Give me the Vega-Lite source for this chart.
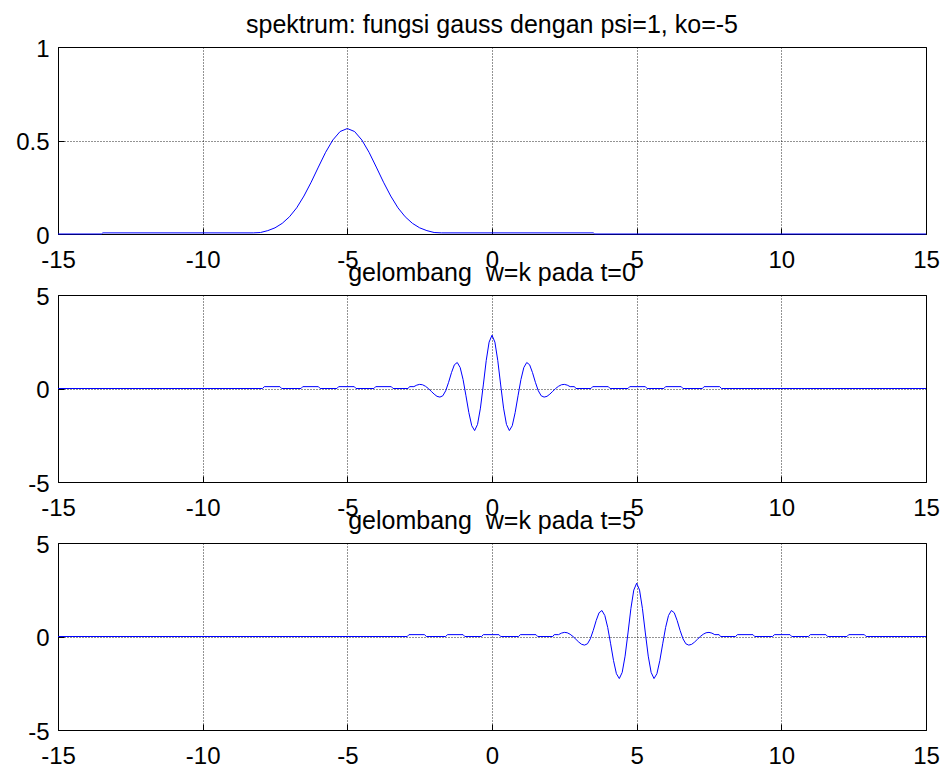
{
  "$schema": "https://vega.github.io/schema/vega-lite/v6.json",
  "padding": {"left": 15, "top": 12, "right": 5, "bottom": 0},
  "background": "#ffffff",
  "datasets": {
    "spektrum": [
      {"x": -15, "y": 0}, {"x": -13.5, "y": 0}, {"x": -13.45, "y": 0.006}, {"x": -8.25, "y": 0.006},
      {"x": -8.0, "y": 0.008}, {"x": -7.75, "y": 0.018}, {"x": -7.5, "y": 0.033}, {"x": -7.25, "y": 0.057},
      {"x": -7.0, "y": 0.092}, {"x": -6.75, "y": 0.14}, {"x": -6.5, "y": 0.203}, {"x": -6.25, "y": 0.277},
      {"x": -6.0, "y": 0.358}, {"x": -5.75, "y": 0.437}, {"x": -5.5, "y": 0.503}, {"x": -5.25, "y": 0.548},
      {"x": -5.0, "y": 0.564}, {"x": -4.75, "y": 0.548}, {"x": -4.5, "y": 0.503}, {"x": -4.25, "y": 0.437},
      {"x": -4.0, "y": 0.358}, {"x": -3.75, "y": 0.277}, {"x": -3.5, "y": 0.203}, {"x": -3.25, "y": 0.14},
      {"x": -3.0, "y": 0.092}, {"x": -2.75, "y": 0.057}, {"x": -2.5, "y": 0.033}, {"x": -2.25, "y": 0.018},
      {"x": -2.0, "y": 0.008}, {"x": -1.75, "y": 0.006}, {"x": 3.5, "y": 0.006}, {"x": 3.55, "y": 0}, {"x": 15, "y": 0}
    ],
    "t0": [
      {"x": -15, "y": 0},
      {"x": -7.93, "y": 0}, {"x": -7.87, "y": 0.1}, {"x": -7.33, "y": 0.1}, {"x": -7.27, "y": 0},
      {"x": -6.6, "y": 0}, {"x": -6.54, "y": 0.1}, {"x": -6.0, "y": 0.1}, {"x": -5.94, "y": 0},
      {"x": -5.36, "y": 0}, {"x": -5.3, "y": 0.1}, {"x": -4.76, "y": 0.1}, {"x": -4.7, "y": 0},
      {"x": -4.08, "y": 0}, {"x": -4.02, "y": 0.1}, {"x": -3.48, "y": 0.1}, {"x": -3.42, "y": 0},
      {"x": -2.9, "y": 0}, {"x": -2.85, "y": 0.1}, {"x": -2.7, "y": 0.1}, {"x": -2.6, "y": 0.18},
      {"x": -2.5, "y": 0.22}, {"x": -2.4, "y": 0.2}, {"x": -2.3, "y": 0.12}, {"x": -2.2, "y": 0.0},
      {"x": -2.1, "y": -0.15}, {"x": -2.0, "y": -0.3}, {"x": -1.9, "y": -0.42}, {"x": -1.8, "y": -0.46},
      {"x": -1.7, "y": -0.39}, {"x": -1.6, "y": -0.12}, {"x": -1.5, "y": 0.33}, {"x": -1.4, "y": 0.85},
      {"x": -1.3, "y": 1.27}, {"x": -1.2, "y": 1.39}, {"x": -1.1, "y": 1.12}, {"x": -1.0, "y": 0.48},
      {"x": -0.9, "y": -0.39}, {"x": -0.8, "y": -1.29}, {"x": -0.7, "y": -1.99}, {"x": -0.6, "y": -2.25},
      {"x": -0.5, "y": -1.92}, {"x": -0.4, "y": -1.05}, {"x": -0.3, "y": 0.19}, {"x": -0.2, "y": 1.49},
      {"x": -0.1, "y": 2.48}, {"x": 0.0, "y": 2.85}, {"x": 0.1, "y": 2.48}, {"x": 0.2, "y": 1.49},
      {"x": 0.3, "y": 0.19}, {"x": 0.4, "y": -1.05}, {"x": 0.5, "y": -1.92}, {"x": 0.6, "y": -2.25},
      {"x": 0.7, "y": -1.99}, {"x": 0.8, "y": -1.29}, {"x": 0.9, "y": -0.39}, {"x": 1.0, "y": 0.48},
      {"x": 1.1, "y": 1.12}, {"x": 1.2, "y": 1.39}, {"x": 1.3, "y": 1.27}, {"x": 1.4, "y": 0.85},
      {"x": 1.5, "y": 0.33}, {"x": 1.6, "y": -0.12}, {"x": 1.7, "y": -0.39}, {"x": 1.8, "y": -0.46},
      {"x": 1.9, "y": -0.42}, {"x": 2.0, "y": -0.3}, {"x": 2.1, "y": -0.15}, {"x": 2.2, "y": 0.0},
      {"x": 2.3, "y": 0.12}, {"x": 2.4, "y": 0.2}, {"x": 2.5, "y": 0.22}, {"x": 2.6, "y": 0.18},
      {"x": 2.7, "y": 0.1}, {"x": 2.85, "y": 0.1}, {"x": 2.9, "y": 0},
      {"x": 3.42, "y": 0}, {"x": 3.48, "y": 0.1}, {"x": 4.02, "y": 0.1}, {"x": 4.08, "y": 0},
      {"x": 4.7, "y": 0}, {"x": 4.76, "y": 0.1}, {"x": 5.3, "y": 0.1}, {"x": 5.36, "y": 0},
      {"x": 5.94, "y": 0}, {"x": 6.0, "y": 0.1}, {"x": 6.54, "y": 0.1}, {"x": 6.6, "y": 0},
      {"x": 7.27, "y": 0}, {"x": 7.33, "y": 0.1}, {"x": 7.87, "y": 0.1}, {"x": 7.93, "y": 0},
      {"x": 15, "y": 0}
    ],
    "t5": [
      {"x": -15, "y": 0},
      {"x": -2.93, "y": 0}, {"x": -2.87, "y": 0.1}, {"x": -2.33, "y": 0.1}, {"x": -2.27, "y": 0},
      {"x": -1.6, "y": 0}, {"x": -1.54, "y": 0.1}, {"x": -1.0, "y": 0.1}, {"x": -0.94, "y": 0},
      {"x": -0.36, "y": 0}, {"x": -0.3, "y": 0.1}, {"x": 0.24, "y": 0.1}, {"x": 0.3, "y": 0},
      {"x": 0.92, "y": 0}, {"x": 0.98, "y": 0.1}, {"x": 1.52, "y": 0.1}, {"x": 1.58, "y": 0},
      {"x": 2.1, "y": 0}, {"x": 2.15, "y": 0.1}, {"x": 2.3, "y": 0.1}, {"x": 2.4, "y": 0.18},
      {"x": 2.5, "y": 0.22}, {"x": 2.6, "y": 0.2}, {"x": 2.7, "y": 0.12}, {"x": 2.8, "y": 0.0},
      {"x": 2.9, "y": -0.15}, {"x": 3.0, "y": -0.3}, {"x": 3.1, "y": -0.42}, {"x": 3.2, "y": -0.46},
      {"x": 3.3, "y": -0.39}, {"x": 3.4, "y": -0.12}, {"x": 3.5, "y": 0.33}, {"x": 3.6, "y": 0.85},
      {"x": 3.7, "y": 1.27}, {"x": 3.8, "y": 1.39}, {"x": 3.9, "y": 1.12}, {"x": 4.0, "y": 0.48},
      {"x": 4.1, "y": -0.39}, {"x": 4.2, "y": -1.29}, {"x": 4.3, "y": -1.99}, {"x": 4.4, "y": -2.25},
      {"x": 4.5, "y": -1.92}, {"x": 4.6, "y": -1.05}, {"x": 4.7, "y": 0.19}, {"x": 4.8, "y": 1.49},
      {"x": 4.9, "y": 2.48}, {"x": 5.0, "y": 2.85}, {"x": 5.1, "y": 2.48}, {"x": 5.2, "y": 1.49},
      {"x": 5.3, "y": 0.19}, {"x": 5.4, "y": -1.05}, {"x": 5.5, "y": -1.92}, {"x": 5.6, "y": -2.25},
      {"x": 5.7, "y": -1.99}, {"x": 5.8, "y": -1.29}, {"x": 5.9, "y": -0.39}, {"x": 6.0, "y": 0.48},
      {"x": 6.1, "y": 1.12}, {"x": 6.2, "y": 1.39}, {"x": 6.3, "y": 1.27}, {"x": 6.4, "y": 0.85},
      {"x": 6.5, "y": 0.33}, {"x": 6.6, "y": -0.12}, {"x": 6.7, "y": -0.39}, {"x": 6.8, "y": -0.46},
      {"x": 6.9, "y": -0.42}, {"x": 7.0, "y": -0.3}, {"x": 7.1, "y": -0.15}, {"x": 7.2, "y": 0.0},
      {"x": 7.3, "y": 0.12}, {"x": 7.4, "y": 0.2}, {"x": 7.5, "y": 0.22}, {"x": 7.6, "y": 0.18},
      {"x": 7.7, "y": 0.1}, {"x": 7.85, "y": 0.1}, {"x": 7.9, "y": 0},
      {"x": 8.42, "y": 0}, {"x": 8.48, "y": 0.1}, {"x": 9.02, "y": 0.1}, {"x": 9.08, "y": 0},
      {"x": 9.7, "y": 0}, {"x": 9.76, "y": 0.1}, {"x": 10.3, "y": 0.1}, {"x": 10.36, "y": 0},
      {"x": 10.94, "y": 0}, {"x": 11.0, "y": 0.1}, {"x": 11.54, "y": 0.1}, {"x": 11.6, "y": 0},
      {"x": 12.27, "y": 0}, {"x": 12.33, "y": 0.1}, {"x": 12.87, "y": 0.1}, {"x": 12.93, "y": 0},
      {"x": 15, "y": 0}
    ]
  },
  "vconcat": [
    {
      "title": {"text": "spektrum: fungsi gauss dengan psi=1, ko=-5"},
      "width": 868,
      "height": 187,
      "data": {"name": "spektrum"},
      "mark": {"type": "line", "color": "#0000ff", "strokeWidth": 1},
      "encoding": {
        "x": {"field": "x", "type": "quantitative", "title": null,
              "scale": {"domain": [-15, 15], "nice": false, "zero": false},
              "axis": {"values": [-15, -10, -5, 0, 5, 10, 15]}},
        "y": {"field": "y", "type": "quantitative", "title": null,
              "scale": {"domain": [0, 1], "nice": false, "zero": false},
              "axis": {"values": [0, 0.5, 1]}}
      }
    },
    {
      "title": {"text": "gelombang\u00a0 w=k pada t=0"},
      "width": 868,
      "height": 187,
      "data": {"name": "t0"},
      "mark": {"type": "line", "color": "#0000ff", "strokeWidth": 1},
      "encoding": {
        "x": {"field": "x", "type": "quantitative", "title": null,
              "scale": {"domain": [-15, 15], "nice": false, "zero": false},
              "axis": {"values": [-15, -10, -5, 0, 5, 10, 15]}},
        "y": {"field": "y", "type": "quantitative", "title": null,
              "scale": {"domain": [-5, 5], "nice": false, "zero": false},
              "axis": {"values": [-5, 0, 5]}}
      }
    },
    {
      "title": {"text": "gelombang\u00a0 w=k pada t=5"},
      "width": 868,
      "height": 187,
      "data": {"name": "t5"},
      "mark": {"type": "line", "color": "#0000ff", "strokeWidth": 1},
      "encoding": {
        "x": {"field": "x", "type": "quantitative", "title": null,
              "scale": {"domain": [-15, 15], "nice": false, "zero": false},
              "axis": {"values": [-15, -10, -5, 0, 5, 10, 15]}},
        "y": {"field": "y", "type": "quantitative", "title": null,
              "scale": {"domain": [-5, 5], "nice": false, "zero": false},
              "axis": {"values": [-5, 0, 5]}}
      }
    }
  ],
  "spacing": 61,
  "bounds": "flush",
  "config": {
    "view": {"stroke": "#000000", "strokeWidth": 1},
    "axis": {
      "labelFont": "Liberation Sans",
      "labelFontSize": 24,
      "labelColor": "#000000",
      "labelExpr": "'' + datum.value",
      "labelOverlap": false,
      "labelFlush": false,
      "grid": true,
      "gridColor": "#000000",
      "gridOpacity": 0.85,
      "gridDash": [1, 2],
      "gridWidth": 1,
      "domain": false,
      "ticks": true,
      "tickColor": "#000000",
      "tickSize": -6,
      "tickWidth": 1
    },
    "axisX": {"labelPadding": 20},
    "axisY": {"labelPadding": 15, "labelOffset": 2},
    "title": {
      "font": "Liberation Sans",
      "fontSize": 25,
      "fontWeight": "normal",
      "color": "#000000",
      "anchor": "middle",
      "frame": "group",
      "baseline": "alphabetic",
      "offset": -1
    }
  }
}
